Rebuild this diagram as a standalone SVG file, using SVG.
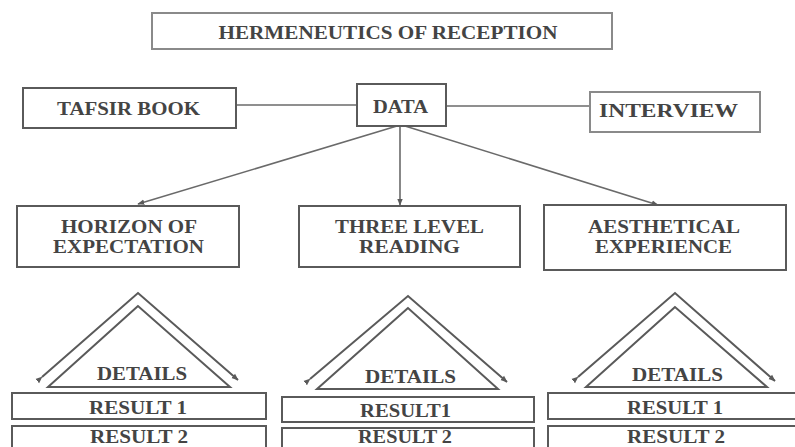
<svg xmlns="http://www.w3.org/2000/svg" width="795" height="447" viewBox="0 0 795 447">
<style>
  .box { fill: #ffffff; stroke: #5a5a5a; stroke-width: 2; }
  .tbox { fill: #ffffff; stroke: #8a8a8a; stroke-width: 2; }
  .lbl { font-family: "Liberation Serif", "Times New Roman", serif; font-size: 19px; font-weight: bold; fill: #444444; text-anchor: middle; }
  .con { stroke: #6a6a6a; stroke-width: 1.6; fill: none; }
  .tri { stroke: #5a5a5a; stroke-width: 2; fill: none; stroke-linejoin: miter; }
</style>
<defs>
  <marker id="arr" viewBox="0 0 10 10" refX="9" refY="5" markerWidth="7" markerHeight="7" markerUnits="userSpaceOnUse" orient="auto">
    <path d="M0,1 L10,5 L0,9 z" fill="#5a5a5a"/>
  </marker>
</defs>
<rect width="795" height="447" fill="#ffffff"/>

<g id="connectors">
  <line class="con" x1="236" y1="105" x2="357" y2="105"/>
  <line class="con" x1="446" y1="106" x2="590" y2="106"/>
  <line class="con" x1="397" y1="126" x2="138" y2="204" marker-end="url(#arr)"/>
  <line class="con" x1="400" y1="126" x2="400" y2="205" marker-end="url(#arr)"/>
  <line class="con" x1="405" y1="126" x2="658" y2="205" marker-end="url(#arr)"/>
</g>

<g id="title">
  <rect class="tbox" x="152" y="13" width="460" height="36"/>
  <text class="lbl" x="388" y="39" textLength="339" lengthAdjust="spacingAndGlyphs">HERMENEUTICS OF RECEPTION</text>
</g>
<g id="tafsir">
  <rect class="box" x="23" y="88" width="213" height="40"/>
  <text class="lbl" x="128.5" y="115" textLength="143" lengthAdjust="spacingAndGlyphs">TAFSIR BOOK</text>
</g>
<g id="data">
  <rect class="box" x="357" y="84" width="89" height="42"/>
  <text class="lbl" x="400.5" y="113" textLength="55" lengthAdjust="spacingAndGlyphs">DATA</text>
</g>
<g id="interview">
  <rect class="tbox" x="590" y="92" width="170" height="40"/>
  <text class="lbl" x="668.5" y="117" textLength="139" lengthAdjust="spacingAndGlyphs">INTERVIEW</text>
</g>

<g id="horizon">
  <rect class="box" x="17" y="206" width="222" height="61"/>
  <text class="lbl" x="129" y="233" textLength="136" lengthAdjust="spacingAndGlyphs">HORIZON OF</text>
  <text class="lbl" x="128.5" y="253" textLength="151" lengthAdjust="spacingAndGlyphs">EXPECTATION</text>
</g>
<g id="three-level">
  <rect class="box" x="299" y="206" width="221" height="61"/>
  <text class="lbl" x="409.5" y="233" textLength="149" lengthAdjust="spacingAndGlyphs">THREE LEVEL</text>
  <text class="lbl" x="409.5" y="253" textLength="101" lengthAdjust="spacingAndGlyphs">READING</text>
</g>
<g id="aesthetical">
  <rect class="box" x="544" y="205" width="242" height="65"/>
  <text class="lbl" x="664" y="233" textLength="152" lengthAdjust="spacingAndGlyphs">AESTHETICAL</text>
  <text class="lbl" x="663.5" y="253" textLength="137" lengthAdjust="spacingAndGlyphs">EXPERIENCE</text>
</g>

<g id="details-left">
  <polyline class="tri" points="42,377 138,293 238,380" marker-start="url(#arr)" marker-end="url(#arr)"/>
  <polygon class="tri" points="138,306 48,387 230,387"/>
  <text class="lbl" x="142" y="380" textLength="90" lengthAdjust="spacingAndGlyphs">DETAILS</text>
</g>
<g id="details-middle">
  <polyline class="tri" points="310,379 408,296 507,382" marker-start="url(#arr)" marker-end="url(#arr)"/>
  <polygon class="tri" points="408,308 317,389 498,389"/>
  <text class="lbl" x="410.5" y="383" textLength="91" lengthAdjust="spacingAndGlyphs">DETAILS</text>
</g>
<g id="details-right">
  <polyline class="tri" points="578,377 675,293 775,381" marker-start="url(#arr)" marker-end="url(#arr)"/>
  <polygon class="tri" points="675,307 586,387 767,387"/>
  <text class="lbl" x="677.5" y="381" textLength="91" lengthAdjust="spacingAndGlyphs">DETAILS</text>
</g>

<g id="result1-left">
  <rect class="box" x="12" y="393" width="254" height="26"/>
  <text class="lbl" x="138" y="414" textLength="98" lengthAdjust="spacingAndGlyphs">RESULT 1</text>
</g>
<g id="result2-left">
  <rect class="box" x="12" y="426" width="254" height="34"/>
  <text class="lbl" x="139" y="443" textLength="98" lengthAdjust="spacingAndGlyphs">RESULT 2</text>
</g>
<g id="result1-middle">
  <rect class="box" x="282" y="397" width="252" height="25"/>
  <text class="lbl" x="405.5" y="417" textLength="91" lengthAdjust="spacingAndGlyphs">RESULT1</text>
</g>
<g id="result2-middle">
  <rect class="box" x="282" y="428" width="252" height="34"/>
  <text class="lbl" x="405" y="443" textLength="94" lengthAdjust="spacingAndGlyphs">RESULT 2</text>
</g>
<g id="result1-right">
  <rect class="box" x="548" y="393" width="252" height="26"/>
  <text class="lbl" x="675" y="414" textLength="96" lengthAdjust="spacingAndGlyphs">RESULT 1</text>
</g>
<g id="result2-right">
  <rect class="box" x="548" y="426" width="252" height="34"/>
  <text class="lbl" x="676" y="443" textLength="98" lengthAdjust="spacingAndGlyphs">RESULT 2</text>
</g>
</svg>
